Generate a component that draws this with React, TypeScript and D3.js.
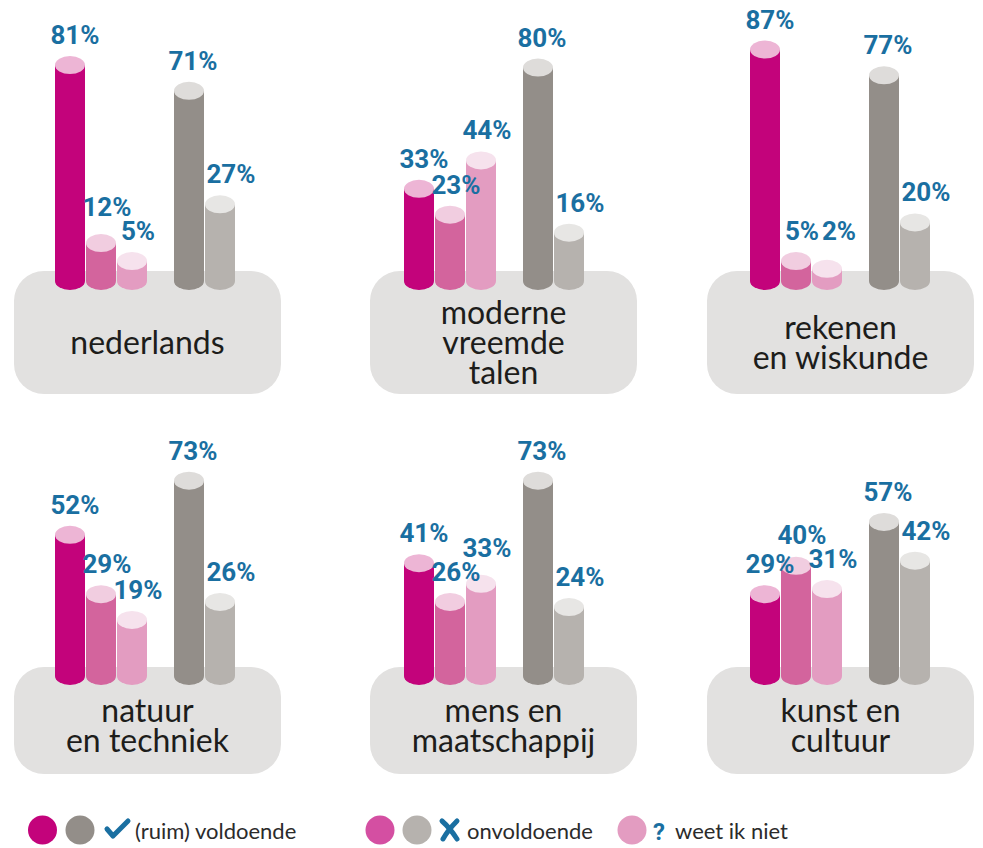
import React from "react";
import * as d3 from "d3";

// subjects (one panel each), label lines
const subjects = [
  ["nederlands"],
  ["moderne", "vreemde", "talen"],
  ["rekenen", "en wiskunde"],
  ["natuur", "en techniek"],
  ["mens en", "maatschappij"],
  ["kunst en", "cultuur"],
];

// pink group: voldoende / onvoldoende / weet ik niet
const pinkVoldoende = [81, 33, 87, 52, 41, 29];
const pinkOnvoldoende = [12, 23, 5, 29, 26, 40];
const pinkWeetNiet = [5, 44, 2, 19, 33, 31];
// grey group: voldoende / onvoldoende
const greyVoldoende = [71, 80, 77, 73, 73, 57];
const greyOnvoldoende = [27, 16, 20, 26, 24, 42];

const legendLabels = ["(ruim) voldoende", "onvoldoende", "weet ik niet"];

const width = 983;
const height = 848;

const series = [
  { key: "pv", group: "pink", values: pinkVoldoende, body: "#c3037b", top: "#edb5d5", dx: 5 },
  { key: "po", group: "pink", values: pinkOnvoldoende, body: "#d3649d", top: "#f1cde0", dx: 6 },
  { key: "pw", group: "pink", values: pinkWeetNiet, body: "#e39cc1", top: "#f6e2ed", dx: 6 },
  { key: "gv", group: "grey", values: greyVoldoende, body: "#938e89", top: "#dedcda", dx: 4 },
  { key: "go", group: "grey", values: greyOnvoldoende, body: "#b6b2ae", top: "#e7e6e4", dx: 11 },
];

// panel layout
const colLeft = [14, 370, 707];
const groupInset = [41, 34, 43];
const panelW = 267;
const rowTop = [271, 667];
const rowH = [123, 107];
const rowBase = [281, 676];
const textOffset = [9, 4];

const blue = "#1a6fa1";
const ry = 9;

export default function App() {
  const h = d3.scaleLinear().domain([0, 100]).range([7, 265]);
  const groupX = d3.scaleBand<string>().domain(["pink", "grey"]).range([0, 212]).paddingInner(0.2185);
  const innerX = d3.scaleBand<number>().domain([0, 1, 2]).range([0, groupX.bandwidth()]);

  const panels = subjects.map((lines, i) => {
    const col = i % 3;
    const row = Math.floor(i / 3);
    const left = colLeft[col];
    const top = rowTop[row];
    const base = rowBase[row];
    const gx = left + groupInset[col];
    const idxInGroup: Record<string, number> = { pink: 0, grey: 0 };
    const bars = series.map((s) => {
      const k = idxInGroup[s.group]++;
      const x = gx + (groupX(s.group) as number) + (innerX(k) as number);
      const w = innerX.bandwidth() - 1;
      const yTop = base - h(s.values[i]);
      return { s, x, w, yTop, v: s.values[i], ly: yTop - 21, lx: x + w / 2 + s.dx };
    });
    // keep neighbouring labels in the pink group from sitting on each other
    for (let k = 0; k < 2; k++) {
      const a = bars[k];
      const b = bars[k + 1];
      const d = Math.abs(a.ly - b.ly);
      if (d < 10) {
        b.lx += 6;
        b.ly = a.ly = Math.min(a.ly, b.ly);
      } else if (d < 24) {
        if (a.ly < b.ly) a.ly = b.ly - 24;
        else b.ly = a.ly - 24;
      }
    }
    const cy = top + rowH[row] / 2 + textOffset[row];
    const lh = 30;
    const firstBase = cy - ((lines.length - 1) * lh) / 2 + 12;
    return (
      <g key={i}>
        <rect x={left} y={top} width={panelW} height={rowH[row]} rx={30} fill="#e2e1e0" />
        {bars.map((b) => (
          <g key={b.s.key}>
            <path
              d={`M${b.x},${b.yTop} L${b.x},${base} A${b.w / 2},${ry} 0 0 0 ${b.x + b.w},${base} L${b.x + b.w},${b.yTop} Z`}
              fill={b.s.body}
            />
            <ellipse cx={b.x + b.w / 2} cy={b.yTop} rx={b.w / 2} ry={ry} fill={b.s.top} />
          </g>
        ))}
        {bars.map((b) => (
          <text
            key={"t" + b.s.key}
            x={b.lx}
            y={b.ly}
            textAnchor="middle"
            fontFamily="Roboto, sans-serif"
            fontWeight={700}
            fontSize={26}
            fill={blue}
          >
            {b.v}%
          </text>
        ))}
        {lines.map((ln, j) => (
          <text
            key={"l" + j}
            x={left + panelW / 2}
            y={firstBase + j * lh}
            textAnchor="middle"
            fontFamily="Lato, sans-serif"
            fontSize={32}
            fill="#1d1d1b"
          >
            {ln}
          </text>
        ))}
      </g>
    );
  });

  const legendY = 830;
  const lr = 14.5;

  return (
    <svg width={width} height={height} style={{ position: "absolute", left: 0, top: 0, background: "#fff" }}>
      {panels}
      <g>
        <circle cx={42.5} cy={legendY} r={lr} fill="#c3037b" />
        <circle cx={80} cy={legendY} r={lr} fill="#938e89" />
        <path d="M107,829 L113,836 L128,821" fill="none" stroke={blue} strokeWidth={5} strokeLinecap="round" strokeLinejoin="round" />
        <text x={135} y={839} fontFamily="Lato, sans-serif" fontSize={22} fill="#2b2b2b">
          {legendLabels[0]}
        </text>

        <circle cx={380} cy={legendY} r={lr} fill="#d44fa2" />
        <circle cx={417} cy={legendY} r={lr} fill="#b6b2ae" />
        <path d="M442,821 Q450,828 457,839 M457,821 Q448,830 443,839" fill="none" stroke={blue} strokeWidth={5} strokeLinecap="round" />
        <text x={467} y={839} fontFamily="Lato, sans-serif" fontSize={22} fill="#2b2b2b">
          {legendLabels[1]}
        </text>

        <circle cx={632} cy={legendY} r={lr} fill="#e39cc1" />
        <text x={653} y={840} fontFamily="Roboto, sans-serif" fontWeight={700} fontSize={24} fill={blue}>
          ?
        </text>
        <text x={675} y={839} fontFamily="Lato, sans-serif" fontSize={22} fill="#2b2b2b">
          {legendLabels[2]}
        </text>
      </g>
    </svg>
  );
}
